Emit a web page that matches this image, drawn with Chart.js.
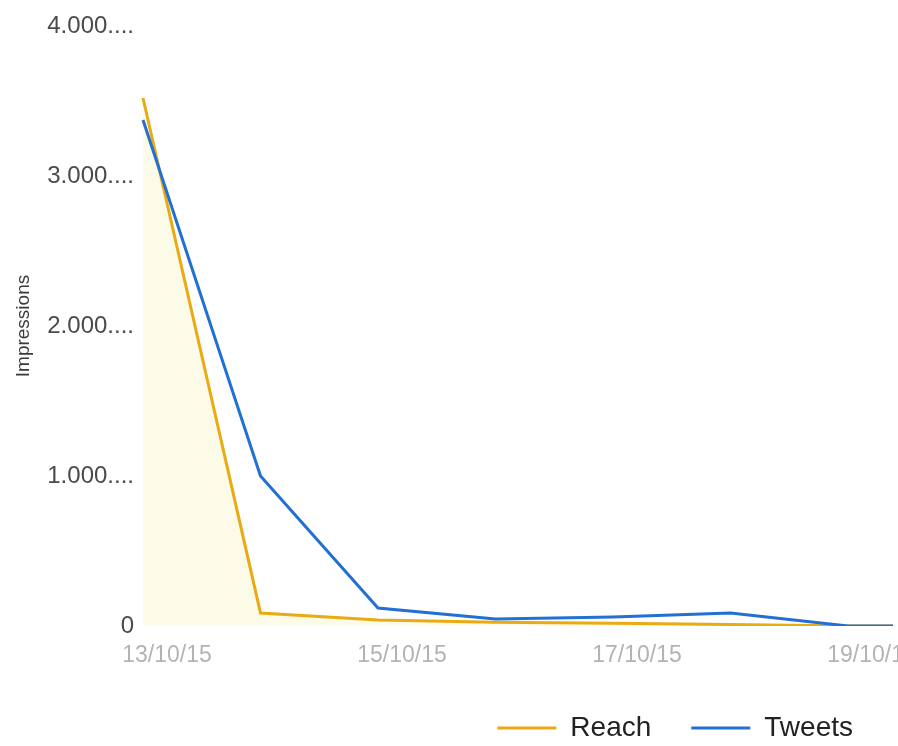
<!DOCTYPE html>
<html>
<head>
<meta charset="utf-8">
<title>Impressions</title>
<script src="https://cdn.jsdelivr.net/npm/chart.js@4/dist/chart.umd.min.js"></script>
<style>
  html, body { margin: 0; padding: 0; background: #ffffff; }
  canvas { display: block; }
</style>
</head>
<body>
<canvas id="chart" width="898" height="746"></canvas>
<script>
// Daily dates shown on the x axis (index = day number)
const dayLabels = ['13/10/15', '14/10/15', '15/10/15', '16/10/15', '17/10/15', '18/10/15', '19/10/15', '20/10/15'];
// Impressions per day
const reachValues  = [3520, 87, 40, 25, 18, 10, 0, 0];
const tweetsValues = [3373, 1000, 120, 47, 60, 87, 0, 0];
// Axis tick labels
const xTickDays   = [0, 2, 4, 6];
const yTickLabels = ['0', '1.000....', '2.000....', '3.000....', '4.000....'];

const seriesNames  = ['Reach', 'Tweets'];
const reachColor   = '#E9AA14';
const tweetsColor  = '#2270D2';
const FONT = '"Liberation Sans", Arial, sans-serif';
const LEGEND_HEIGHT = 72;
const X_AXIS_HEIGHT = 48;

const toPoints = vals => vals.map((v, i) => ({ x: i, y: v }));

// Keeps the bottom legend compact vertically while keeping wide spacing between its items
const legendHeightPlugin = {
  id: 'legendHeight',
  beforeLayout(chart) {
    const legend = chart.legend;
    if (legend && !legend._fixedFit) {
      const origFit = legend.fit;
      legend.fit = function () {
        origFit.call(this);
        this.height = LEGEND_HEIGHT;
      };
      legend._fixedFit = true;
    }
  }
};

new Chart(document.getElementById('chart'), {
  type: 'line',
  data: {
    datasets: [
      {
        label: seriesNames[0],
        data: toPoints(reachValues),
        borderColor: reachColor,
        backgroundColor: '#FBFBE8',
        fill: 'origin',
        borderWidth: 3,
        pointRadius: 0,
        tension: 0,
        order: 1
      },
      {
        label: seriesNames[1],
        data: toPoints(tweetsValues),
        borderColor: tweetsColor,
        backgroundColor: tweetsColor,
        fill: false,
        borderWidth: 3,
        pointRadius: 0,
        tension: 0,
        order: 0
      }
    ]
  },
  options: {
    responsive: false,
    animation: false,
    devicePixelRatio: 1,
    layout: { padding: { top: 26, right: 5, bottom: 0, left: 0 } },
    plugins: {
      tooltip: { enabled: false },
      legend: {
        position: 'bottom',
        align: 'end',
        labels: {
          boxWidth: 59,
          boxHeight: 3,
          padding: 40,
          color: '#222222',
          font: { family: FONT, size: 28 },
          generateLabels: chart => chart.data.datasets.map((ds, i) => ({
            text: ds.label,
            fillStyle: ds.borderColor,
            strokeStyle: ds.borderColor,
            lineWidth: 0,
            hidden: false,
            datasetIndex: i,
            fontColor: '#222222'
          }))
        }
      }
    },
    scales: {
      x: {
        type: 'linear',
        min: -0.0255,
        max: 6.383,
        grid: { display: false, drawTicks: false },
        border: { display: false },
        afterBuildTicks: scale => { scale.ticks = xTickDays.map(v => ({ value: v })); },
        afterFit: scale => {
          scale.height = X_AXIS_HEIGHT;
          scale.paddingLeft = 0;
          scale.paddingRight = 0;
        },
        ticks: {
          autoSkip: false,
          maxRotation: 0,
          padding: 16,
          labelOffset: 24,
          color: '#B3B3B3',
          font: { family: FONT, size: 23 },
          callback: v => dayLabels[v]
        }
      },
      y: {
        min: 0,
        max: 4000,
        grid: { display: false, drawTicks: false },
        border: { display: false },
        afterFit: scale => { scale.width = 140; },
        ticks: {
          stepSize: 1000,
          padding: 6,
          color: '#4A4A4A',
          font: { family: FONT, size: 24 },
          callback: (v, i) => yTickLabels[i]
        },
        title: {
          display: true,
          text: 'Impressions',
          color: '#3A3A3A',
          padding: { top: 12, bottom: 0 },
          font: { family: FONT, size: 19 }
        }
      }
    }
  },
  plugins: [legendHeightPlugin]
});
</script>
</body>
</html>
